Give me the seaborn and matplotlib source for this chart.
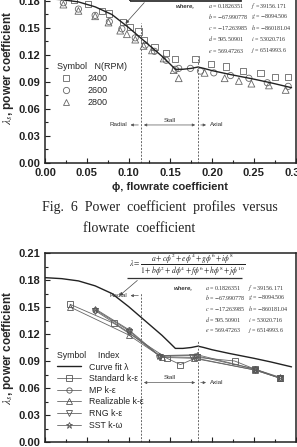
import matplotlib
matplotlib.use("Agg")
import matplotlib.pyplot as plt
from matplotlib.lines import Line2D
from matplotlib.patches import Rectangle
from matplotlib.ticker import MultipleLocator, FormatStrFormatter
import seaborn as sns

# curve fit lambda
phi_fit = [0.000, 0.020, 0.040, 0.060, 0.080, 0.100, 0.120, 0.140, 0.150, 0.156,
           0.165, 0.175, 0.183, 0.190, 0.200, 0.220, 0.250, 0.270, 0.295]
lam_fit = [0.1826, 0.1815, 0.1790, 0.1735, 0.1650, 0.1505, 0.1345, 0.1185, 0.1095, 0.1040,
           0.1040, 0.1050, 0.1065, 0.1050, 0.1025, 0.0985, 0.0930, 0.0890, 0.0835]

# measured points, top panel
phi_2400 = [0.035, 0.051, 0.068, 0.077, 0.093, 0.102, 0.112, 0.118, 0.131, 0.145,
            0.156, 0.180, 0.199, 0.217, 0.237, 0.258, 0.275, 0.291]
lam_2400 = [0.181, 0.177, 0.169, 0.166, 0.157, 0.151, 0.146, 0.137, 0.129, 0.122,
            0.115, 0.115, 0.110, 0.107, 0.102, 0.100, 0.095, 0.095]
phi_2600 = [0.022, 0.040, 0.060, 0.077, 0.092, 0.108, 0.120, 0.131, 0.145, 0.156,
            0.160, 0.174, 0.186, 0.202, 0.222, 0.244, 0.266, 0.291]
lam_2600 = [0.178, 0.171, 0.164, 0.157, 0.149, 0.139, 0.131, 0.124, 0.114, 0.104,
            0.105, 0.105, 0.102, 0.100, 0.097, 0.094, 0.089, 0.085]
phi_2800 = [0.022, 0.040, 0.060, 0.076, 0.090, 0.098, 0.108, 0.118, 0.128, 0.142,
            0.154, 0.160, 0.191, 0.215, 0.232, 0.247, 0.268, 0.288]
lam_2800 = [0.176, 0.169, 0.163, 0.156, 0.147, 0.143, 0.137, 0.130, 0.125, 0.116,
            0.103, 0.094, 0.100, 0.094, 0.091, 0.088, 0.086, 0.081]

# CFD results, bottom panel
phi_std = [0.030, 0.082, 0.146, 0.162, 0.182, 0.227, 0.251, 0.281]
lam_std = [0.153, 0.132, 0.093, 0.086, 0.094, 0.090, 0.081, 0.071]
phi_mp = [0.060, 0.100, 0.136, 0.180, 0.251, 0.281]
lam_mp = [0.147, 0.124, 0.096, 0.096, 0.081, 0.071]
phi_real = [0.030, 0.100, 0.140, 0.178, 0.251, 0.281]
lam_real = [0.150, 0.119, 0.094, 0.093, 0.080, 0.071]
phi_rng = [0.060, 0.100, 0.138, 0.176, 0.251, 0.281]
lam_rng = [0.146, 0.122, 0.095, 0.094, 0.080, 0.071]
phi_sst = [0.060, 0.100, 0.137, 0.182, 0.251, 0.281]
lam_sst = [0.148, 0.125, 0.096, 0.097, 0.081, 0.072]

coef_left = [r"$a$ = 0.1826351", r"$b$ = $-$67.990778", r"$c$ = $-$17.263985",
             r"$d$ = 595.50901", r"$e$ = 569.47263"]
coef_right = [r"$f$ = 39156.171", r"$g$ = $-$8094.506", r"$h$ = $-$860181.04",
              r"$i$ = 53020.716", r"$j$ = 6514993.6"]

sns.set_style("ticks")
plt.rcParams['font.family'] = ['Liberation Sans', 'DejaVu Sans']
plt.rcParams['mathtext.fontset'] = 'stix'

fig = plt.figure(figsize=(2.97, 4.47), dpi=100)
W, H = 297, 447
ax1 = fig.add_axes([45 / W, (H - 162.7) / H, 250.7 / W, 188.65 / H])
ax2 = fig.add_axes([45 / W, (H - 442) / H, 250.7 / W, 189 / H])

ink = '#222222'
grey = '#555555'


def style_axes(ax):
    ax.set_xlim(0, 0.3)
    ax.set_ylim(0, 0.21)
    ax.xaxis.set_major_locator(MultipleLocator(0.05))
    ax.xaxis.set_minor_locator(MultipleLocator(0.025))
    ax.yaxis.set_major_locator(MultipleLocator(0.03))
    ax.yaxis.set_minor_locator(MultipleLocator(0.015))
    ax.xaxis.set_major_formatter(FormatStrFormatter('%.2f'))
    ax.yaxis.set_major_formatter(FormatStrFormatter('%.2f'))
    ax.tick_params(which='both', direction='in', width=0.8, color=ink)
    ax.tick_params(which='major', length=3.5, labelsize=8, pad=3.5)
    ax.tick_params(which='minor', length=2)
    for s in ax.spines.values():
        s.set_linewidth(1.1)
        s.set_color(ink)
    plt.setp(ax.get_xticklabels() + ax.get_yticklabels(), fontweight='bold', color=ink)
    ax.set_ylabel(r"$\lambda_s$, power coefficient", fontsize=8.5, fontweight='bold', labelpad=1.5)


def regime_marks(ax, top1, top2, y_rad):
    ax.vlines(0.115, 0, top1, colors='#666', linestyles=(0, (2, 1.5)), lw=0.7)
    ax.vlines(0.183, 0, top2, colors='#666', linestyles=(0, (2, 1.5)), lw=0.7)
    ap = dict(arrowstyle='-|>', color='#555', lw=0.5, mutation_scale=4)
    ax.annotate('', xy=(0.099, y_rad), xytext=(0.115, y_rad), arrowprops=ap)
    ax.text(0.098, y_rad, 'Radial', ha='right', va='center', fontsize=4.5, color='#333')


def stall_axial(ax, y_arrow, y_stall):
    ax.annotate('', xy=(0.115, y_arrow), xytext=(0.183, y_arrow),
                arrowprops=dict(arrowstyle='<|-|>', color='#555', lw=0.5, mutation_scale=4))
    ax.text(0.149, y_stall, 'Stall', ha='center', va='bottom', fontsize=4.5, color='#333')
    ax.annotate('', xy=(0.196, y_arrow), xytext=(0.183, y_arrow),
                arrowprops=dict(arrowstyle='-|>', color='#555', lw=0.5, mutation_scale=4))
    ax.text(0.198, y_arrow, 'Axial', ha='left', va='center', fontsize=4.5, color='#333')


def coefficients(ax, x0, ys):
    ax.text(x0, ys[0], 'where,', ha='left', va='center', fontsize=4.3,
            style='italic', fontweight='bold', color='#333')
    for yy, l, r in zip(ys, coef_left, coef_right):
        ax.text(x0 + 0.038, yy, l, ha='left', va='center', fontsize=4.3,
                family='Liberation Serif', color='#333')
        ax.text(x0 + 0.089, yy, r, ha='left', va='center', fontsize=4.3,
                family='Liberation Serif', color='#333')


# ---- top panel: measurements
style_axes(ax1)
sns.lineplot(x=phi_fit, y=lam_fit, ax=ax1, color=ink, lw=1.0, sort=False, estimator=None)
sns.scatterplot(x=phi_2400, y=lam_2400, ax=ax1, marker='s', s=20, facecolor='none',
                edgecolor='#666', linewidth=0.6)
sns.scatterplot(x=phi_2600, y=lam_2600, ax=ax1, marker='o', s=20, facecolor='none',
                edgecolor='#666', linewidth=0.6)
sns.scatterplot(x=phi_2800, y=lam_2800, ax=ax1, marker='^', s=24, facecolor='none',
                edgecolor='#666', linewidth=0.6)
ax1.set_xlabel("ϕ, flowrate coefficient", fontsize=8, fontweight='bold', labelpad=3)
regime_marks(ax1, 0.155, 0.118, 0.042)
stall_axial(ax1, 0.042, 0.0445)
ax1.add_patch(Rectangle((0.102, 0.1803), 0.132, 0.04, fill=False, ec='#333', lw=1.3, clip_on=False))
ax1.annotate('', xy=(0.094, 0.1525), xytext=(0.121, 0.1805),
             arrowprops=dict(arrowstyle='-|>', color='#444', lw=0.5, mutation_scale=5))
coefficients(ax1, 0.157, [0.1744, 0.1625, 0.1503, 0.1377, 0.1247])

h_top = [Line2D([], [], ls='none', marker=m, ms=ms, mfc='none', mec='#666', mew=0.6)
         for m, ms in [('s', 4.5), ('o', 4.5), ('^', 5)]]
ax1.legend(h_top, ['2400', '2600', '2800'], title='Symbol   N(RPM)', loc='upper left',
           bbox_to_anchor=(0.028, 0.56), frameon=False, fontsize=6.5, title_fontsize=6.5,
           handlelength=2.2, handletextpad=1.2, labelspacing=0.35, borderpad=0,
           alignment='left')

# ---- bottom panel: CFD vs curve fit
style_axes(ax2)
sns.lineplot(x=phi_fit, y=lam_fit, ax=ax2, color=ink, lw=1.0, sort=False, estimator=None)
cfd = [(phi_std, lam_std, 's', 3.8), (phi_mp, lam_mp, 'o', 3.8), (phi_real, lam_real, '^', 4.2),
       (phi_rng, lam_rng, 'v', 4.2), (phi_sst, lam_sst, '*', 4.8)]
for px_, py_, m, ms in cfd:
    sns.lineplot(x=px_, y=py_, ax=ax2, color='#666', lw=0.6, marker=m, ms=ms, mfc='none',
                 mec=grey, mew=0.6, sort=False, estimator=None)
regime_marks(ax2, 0.166, 0.112, 0.1626)
stall_axial(ax2, 0.066, 0.0685)
ax2.hlines(0.1826, 0.098, 0.236, colors='#333', lw=0.9)
ax2.text(0.170, 0.1965,
         r"$\lambda = \dfrac{a + c\phi^2 + e\phi^4 + g\phi^6 + i\phi^8}{1 + b\phi^2 + d\phi^4 + f\phi^6 + h\phi^8 + j\phi^{10}}$",
         ha='center', va='center', fontsize=5.5, color='#222')
ax2.annotate('', xy=(0.0865, 0.1605), xytext=(0.113, 0.1815),
             arrowprops=dict(arrowstyle='-|>', color='#444', lw=0.5, mutation_scale=5))
coefficients(ax2, 0.154, [0.1711, 0.1600, 0.1478, 0.1356, 0.1244])

h_bot = [Line2D([], [], color=ink, lw=1.0)]
h_bot += [Line2D([], [], color='#666', lw=0.6, marker=m, ms=ms, mfc='none', mec=grey, mew=0.6)
          for _, _, m, ms in cfd]
ax2.legend(h_bot, ['Curve fit λ', 'Standard k-ε', 'MP k-ε', 'Realizable k-ε', 'RNG k-ε', 'SST k-ω'],
           title='Symbol     Index', loc='upper left', bbox_to_anchor=(0.03, 0.505),
           frameon=False, fontsize=6.3, title_fontsize=6.3, handlelength=2.8,
           handletextpad=0.9, labelspacing=0.3, borderpad=0, alignment='left')

# ---- caption between the panels
fig.text(0.539, (H - 207) / H, 'Fig.  6  Power  coefficient  profiles  versus',
         ha='center', va='center', fontsize=10, family='Liberation Serif', color='#222')
fig.text(83 / W, (H - 228) / H, 'flowrate  coefficient', ha='left', va='center',
         fontsize=10, family='Liberation Serif', color='#222')

fig.savefig('out.png', dpi=100)
